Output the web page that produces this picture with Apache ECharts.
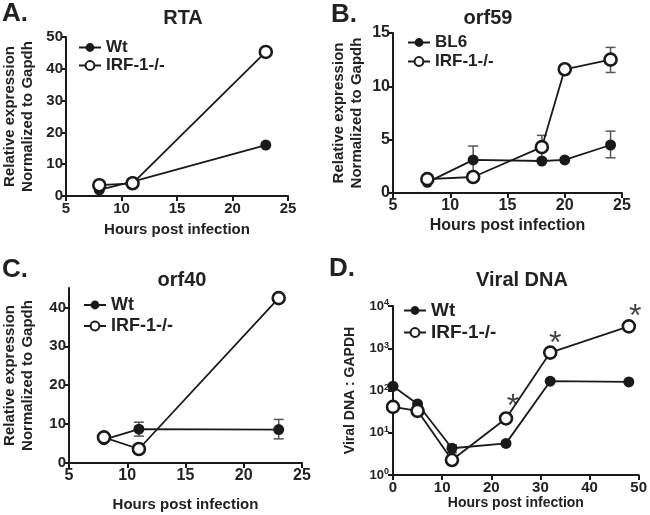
<!DOCTYPE html>
<html>
<head>
<meta charset="utf-8">
<script src="https://cdn.jsdelivr.net/npm/echarts@6/dist/echarts.min.js"></script>
<style>html,body{margin:0;padding:0;background:#fff}#c{width:650px;height:515px}</style>
</head>
<body>
<div id="c"></div>
<script>
// ---- Data ----
// Panel A: RTA
const rtaHours = [8, 11, 23];
const rtaWt = [1.9, 4.5, 16.0];
const rtaIrf = [3.4, 4.0, 45.3];
// Panel B: orf59
const orf59Hours = [8, 12, 18, 20, 24];
const orf59Bl6 = [1.0, 3.1, 3.0, 3.1, 4.5];
const orf59Irf = [1.3, 1.5, 4.3, 11.6, 12.5];
const orf59Bl6Err = [[12, 1.9, 4.4], [24, 3.3, 5.8]];
const orf59IrfErr = [[18, 3.2, 5.4], [24, 11.3, 13.65]];
// Panel C: orf40
const orf40Hours = [8, 11, 23];
const orf40Wt = [6.0, 8.7, 8.6];
const orf40Irf = [6.6, 3.6, 42.4];
const orf40WtErr = [[11, 6.9, 10.5], [23, 6.2, 11.2]];
// Panel D: Viral DNA
const dnaHours = [0, 5, 12, 23, 32, 48];
const dnaWt = [126, 48, 4.3, 5.6, 166, 160];
const dnaIrf = [41, 33, 2.26, 21.8, 790, 3300];
const dnaWtErr = [[12, 3.4, 5.2]];
const dnaStars = [[24.4, 59], [33.0, 1860], [49.3, 7900]];
// Tick labels
const linTicksC = [0, 10, 20, 30, 40];

const FONT = 'Liberation Sans, Arial, sans-serif';
const INK = '#1a1a1a';

function xAx(gi, min, max, interval, name, gap, nameSize, labSize) {
  return {
    type: 'value', gridIndex: gi, min: min, max: max, interval: interval,
    name: name, nameLocation: 'middle', nameGap: gap,
    nameTextStyle: {fontFamily: FONT, fontWeight: 'bold', fontSize: nameSize, color: '#222'},
    axisLine: {show: true, lineStyle: {color: INK, width: 2}},
    axisTick: {show: true, length: 5, lineStyle: {color: INK, width: 2}},
    axisLabel: {fontFamily: FONT, fontWeight: 'bold', fontSize: labSize, color: '#222', margin: 5},
    splitLine: {show: false}
  };
}
function yAx(gi, min, max, interval, name, gap, nameSize, labSize) {
  return {
    type: 'value', gridIndex: gi, min: min, max: max, interval: interval,
    name: name, nameLocation: 'middle', nameGap: gap, nameRotate: 90,
    nameTextStyle: {fontFamily: FONT, fontWeight: 'bold', fontSize: nameSize, color: '#222', lineHeight: nameSize + 3},
    axisLine: {show: true, lineStyle: {color: INK, width: 2}},
    axisTick: {show: true, length: 5, lineStyle: {color: INK, width: 2}},
    axisLabel: {fontFamily: FONT, fontWeight: 'bold', fontSize: labSize, color: '#222', margin: 3},
    splitLine: {show: false}
  };
}
function zip(xs, ys) { return xs.map((x, i) => [x, ys[i]]); }
function lineSeries(name, gi, data, filled) {
  return {
    name: name, type: 'line', xAxisIndex: gi, yAxisIndex: gi, data: data,
    symbol: 'circle', symbolSize: filled ? 11 : 12, clip: false,
    lineStyle: {color: INK, width: 1.8},
    itemStyle: filled ? {color: INK} : {color: '#fff', borderColor: INK, borderWidth: 2.6},
    z: filled ? 3 : 4
  };
}
function errSeries(gi, data) {
  return {
    type: 'custom', xAxisIndex: gi, yAxisIndex: gi, data: data, clip: false, z: 2,
    renderItem: function (params, api) {
      const lo = api.coord([api.value(0), api.value(1)]);
      const hi = api.coord([api.value(0), api.value(2)]);
      const w = 5;
      const st = {stroke: '#555', lineWidth: 1.5};
      return {type: 'group', children: [
        {type: 'line', shape: {x1: lo[0], y1: lo[1], x2: hi[0], y2: hi[1]}, style: st},
        {type: 'line', shape: {x1: lo[0] - w, y1: lo[1], x2: lo[0] + w, y2: lo[1]}, style: st},
        {type: 'line', shape: {x1: hi[0] - w, y1: hi[1], x2: hi[0] + w, y2: hi[1]}, style: st}
      ]};
    }
  };
}
function legend(left, top, gap, size, names) {
  return {
    left: left, top: top, orient: 'vertical', itemGap: gap, itemWidth: 22, itemHeight: 11,
    data: names, selectedMode: false,
    textStyle: {fontFamily: FONT, fontWeight: 'bold', fontSize: size, color: '#222', lineHeight: size},
    padding: 0
  };
}
function txt(x, y, s, size) {
  return {type: 'text', x: x, y: y, style: {text: s, fontFamily: FONT, fontWeight: 'bold', fontSize: size, fill: '#222', align: 'center', verticalAlign: 'middle'}};
}
function lt(x, y, s) {
  return {type: 'text', x: x, y: y, style: {text: s, fontFamily: FONT, fontWeight: 'bold', fontSize: 26, fill: '#222', align: 'left', verticalAlign: 'middle'}};
}

const supMap = {0: '0', 1: '1', 2: '2', 3: '3', 4: '4'};
const yNameRel = 'Relative expression\nNormalized to Gapdh';

const yD = yAx(3, 1, 10000, null, 'Viral DNA : GAPDH', 34, 14, 13);
yD.type = 'log'; yD.logBase = 10; delete yD.interval;
yD.axisLabel = {
  fontFamily: FONT, fontWeight: 'bold', fontSize: 13, color: '#222', margin: 4,
  formatter: function (v) { const e = Math.round(Math.log10(v)); return '10{s|' + supMap[e] + '}'; },
  rich: {s: {fontFamily: FONT, fontWeight: 'bold', fontSize: 9, color: '#222', verticalAlign: 'top', padding: [0, 0, 6, 0]}}
};
yD.minorTick = {show: false};

const yC = yAx(2, 0, 45, 10, yNameRel, 32, 15, 15);
yC.axisLabel.customValues = linTicksC;
yC.axisTick.customValues = linTicksC;

const option = {
  animation: false,
  backgroundColor: '#fff',
  grid: [
    {left: 63, top: 37, width: 225, height: 159},
    {left: 393, top: 33, width: 229, height: 160},
    {left: 68, top: 288, width: 234, height: 175},
    {left: 393, top: 306, width: 250, height: 169}
  ],
  xAxis: [
    xAx(0, 5, 25, 5, 'Hours post infection', 26, 15, 15),
    xAx(1, 5, 25, 5, 'Hours post infection', 25, 16, 16),
    xAx(2, 5, 25, 5, 'Hours post infection', 34, 15, 16),
    xAx(3, 0, 50, 10, 'Hours post infection', 21, 14, 15)
  ],
  yAxis: [
    yAx(0, 0, 50, 10, yNameRel, 29, 15, 15),
    yAx(1, 0, 15, 5, yNameRel, 27, 15, 16),
    yC,
    yD
  ],
  legend: [
    legend(78, 39, 1, 17, ['Wt', 'IRF-1-/-']),
    legend(407, 34, 2, 17, ['BL6', 'IRF-1-/-']),
    legend(83, 296, 3, 18, ['Wt', 'IRF-1-/-']),
    legend(403, 301, 3, 19, ['Wt', 'IRF-1-/-'])
  ],
  graphic: [
    txt(183, 18, 'RTA', 20),
    txt(488, 18, 'orf59', 20),
    txt(182, 280, 'orf40', 20),
    txt(522, 280, 'Viral DNA', 20),
    lt(2, 14, 'A.'),
    lt(331, 15, 'B.'),
    lt(2, 270, 'C.'),
    lt(329, 269, 'D.')
  ],
  series: [
    lineSeries('Wt', 0, zip(rtaHours, rtaWt), true),
    lineSeries('IRF-1-/-', 0, zip(rtaHours, rtaIrf), false),
    errSeries(1, orf59Bl6Err.concat(orf59IrfErr)),
    lineSeries('BL6', 1, zip(orf59Hours, orf59Bl6), true),
    lineSeries('IRF-1-/-', 1, zip(orf59Hours, orf59Irf), false),
    errSeries(2, orf40WtErr),
    lineSeries('Wt', 2, zip(orf40Hours, orf40Wt), true),
    lineSeries('IRF-1-/-', 2, zip(orf40Hours, orf40Irf), false),
    errSeries(3, dnaWtErr),
    lineSeries('Wt', 3, zip(dnaHours, dnaWt), true),
    lineSeries('IRF-1-/-', 3, zip(dnaHours, dnaIrf), false),
    {
      type: 'scatter', xAxisIndex: 3, yAxisIndex: 3, data: dnaStars, symbolSize: 1, clip: false,
      itemStyle: {color: 'rgba(0,0,0,0)'},
      label: {show: true, formatter: '*', position: 'inside', offset: [0, 7], fontFamily: FONT, fontWeight: 'normal', fontSize: 32, color: '#111', textBorderWidth: 0}
    }
  ]
};
const chart = echarts.init(document.getElementById('c'), null, {renderer: 'canvas'});
chart.setOption(option);
</script>
</body>
</html>
